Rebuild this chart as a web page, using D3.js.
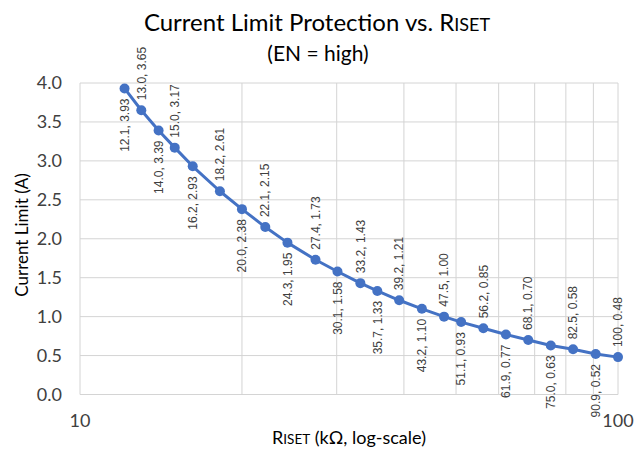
<!DOCTYPE html>
<html><head><meta charset="utf-8">
<script src="https://cdn.jsdelivr.net/npm/d3@7"></script>
<style>body{margin:0;background:#fff}svg{display:block}</style>
</head><body>
<svg id="c" width="644" height="461"></svg>
<script>
const riset = [12.1,13.0,14.0,15.0,16.2,18.2,20.0,22.1,24.3,27.4,30.1,33.2,35.7,39.2,43.2,47.5,51.1,56.2,61.9,68.1,75.0,82.5,90.9,100];
const current = [3.93,3.65,3.39,3.17,2.93,2.61,2.38,2.15,1.95,1.73,1.58,1.43,1.33,1.21,1.10,1.00,0.93,0.85,0.77,0.70,0.63,0.58,0.52,0.48];
const labels = ["12.1, 3.93","13.0, 3.65","14.0, 3.39","15.0, 3.17","16.2, 2.93","18.2, 2.61","20.0, 2.38","22.1, 2.15","24.3, 1.95","27.4, 1.73","30.1, 1.58","33.2, 1.43","35.7, 1.33","39.2, 1.21","43.2, 1.10","47.5, 1.00","51.1, 0.93","56.2, 0.85","61.9, 0.77","68.1, 0.70","75.0, 0.63","82.5, 0.58","90.9, 0.52","100, 0.48"];
const yTicks = [0,0.5,1.0,1.5,2.0,2.5,3.0,3.5,4.0];
const xGrid = [10,20,30,40,50,60,70,80,90,100];
const xTickLabels = [10,100];

const font = "Lato, 'Open Sans', sans-serif";
const svg = d3.select("#c");
const x = d3.scaleLog().domain([10,100]).range([80,618]);
const y = d3.scaleLinear().domain([0,4]).range([394.5,83]);

const g = svg.append("g");
g.selectAll(".hg").data(yTicks).join("line")
  .attr("x1",80).attr("x2",618).attr("y1",d=>y(d)).attr("y2",d=>y(d))
  .attr("stroke","#d4d4d4").attr("stroke-width",1);
g.selectAll(".vg").data(xGrid).join("line")
  .attr("x1",d=>x(d)).attr("x2",d=>x(d)).attr("y1",y(4)).attr("y2",y(0))
  .attr("stroke","#d4d4d4").attr("stroke-width",1);

// y tick labels
g.selectAll(".yt").data(yTicks).join("text")
  .attr("x",62).attr("y",d=>y(d)).attr("dy","0.35em").attr("text-anchor","end")
  .attr("font-family",font).attr("font-size",18).attr("fill","#404040")
  .text(d=>d3.format(".1f")(d));
g.selectAll(".xt").data(xTickLabels).join("text")
  .attr("x",d=>x(d)).attr("y",427).attr("text-anchor","middle")
  .attr("font-family",font).attr("font-size",18).attr("fill","#404040")
  .text(d=>d);

// line
const pts = riset.map((r,i)=>({r, c: current[i], l: labels[i], i}));
g.append("path").datum(pts)
  .attr("d", d3.line().x(d=>x(d.r)).y(d=>y(d.c)))
  .attr("fill","none").attr("stroke","#4472C4").attr("stroke-width",3).attr("stroke-linejoin","round");
g.selectAll(".pt").data(pts).join("circle")
  .attr("cx",d=>x(d.r)).attr("cy",d=>y(d.c)).attr("r",5)
  .attr("fill","#4472C4");

// data labels (rotated)
g.selectAll(".dl").data(pts).join("text")
  .attr("transform", d => {
    const px = x(d.r), py = d.i % 2 === 0 ? y(d.c) + 10 : y(d.c) - 10;
    return `translate(${px},${py}) rotate(-90)`;
  })
  .attr("text-anchor", d => d.i % 2 === 0 ? "end" : "start")
  .attr("dy","0.35em")
  .attr("font-family","'Liberation Sans', Arial, sans-serif").attr("font-size",12).attr("fill","#404040")
  .text(d=>d.l);

// title
const t = svg.append("text").attr("x",317).attr("y",31).attr("text-anchor","middle")
  .attr("font-family",font).attr("font-size",24).attr("fill","#000");
t.append("tspan").text("Current Limit Protection vs. R");
t.append("tspan").attr("font-size",18).text("ISET");
svg.append("text").attr("x",318).attr("y",61).attr("text-anchor","middle")
  .attr("font-family",font).attr("font-size",21).attr("fill","#000").text("(EN = high)");

// axis titles
svg.append("text").attr("transform","translate(28,235) rotate(-90)").attr("text-anchor","middle")
  .attr("font-family",font).attr("font-size",17).attr("fill","#000").text("Current Limit (A)");
const xt = svg.append("text").attr("x",349).attr("y",444).attr("text-anchor","middle")
  .attr("font-family",font).attr("font-size",18).attr("fill","#000");
xt.append("tspan").text("R");
xt.append("tspan").attr("font-size",13.5).text("ISET");
xt.append("tspan").text(" (kΩ, log-scale)");
</script>
</body></html>
